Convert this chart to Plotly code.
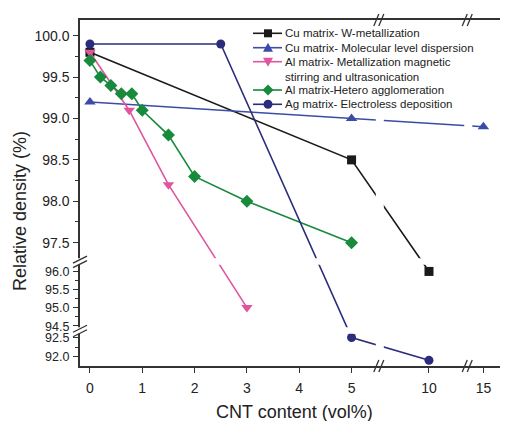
import plotly.graph_objects as go

# ---------------- data ----------------
cu_w_x = [0, 5, 10]
cu_w_y = [99.8, 98.5, 96.0]

cu_mol_x = [0, 5, 15]
cu_mol_y = [99.2, 99.0, 98.9]

al_met_x = [0, 0.75, 1.5, 3]
al_met_y = [99.8, 99.1, 98.2, 95.0]

al_het_x = [0, 0.2, 0.4, 0.6, 0.8, 1.0, 1.5, 2.0, 3.0, 5.0]
al_het_y = [99.7, 99.5, 99.4, 99.3, 99.3, 99.1, 98.8, 98.3, 98.0, 97.5]

ag_x = [0, 2.5, 5, 10]
ag_y = [99.9, 99.9, 92.5, 91.9]

names = [
    "Cu matrix- W-metallization",
    "Cu matrix- Molecular level dispersion",
    "Al matrix- Metallization magnetic<br>stirring and ultrasonication",
    "Al matrix-Hetero agglomeration",
    "Ag matrix- Electroless deposition",
]

x_ticks = [0, 1, 2, 3, 4, 5, 10, 15]
y_ticks = [92.0, 92.5, 94.5, 95.0, 95.5, 96.0, 97.5, 98.0, 98.5, 99.0, 99.5, 100.0]
y_minor = [92.25, 94.75, 95.25, 95.75, 97.75, 98.25, 98.75, 99.25, 99.75]

# broken-axis segments: (data_lo, data_hi, pixels per unit)
X_SEGS = [(-0.19, 5.54, 52.3), (9.06, 10.75, 52.3), (14.71, 15.47, 52.3)]
Y_SEGS = [(91.75, 92.68, 38.0), (94.36, 96.27, 36.2), (97.27, 100.19, 82.9)]


def make_map(segs):
    def f(v):
        off = 0.0
        for lo, hi, s in segs:
            if lo - 1e-9 <= v <= hi + 1e-9:
                return off + (v - lo) * s
            off += (hi - lo) * s
        return None
    total = sum((hi - lo) * s for lo, hi, s in segs)
    bounds = []
    off = 0.0
    for lo, hi, s in segs[:-1]:
        off += (hi - lo) * s
        bounds.append(off)
    return f, total, bounds


fx, XT, XB = make_map(X_SEGS)
fy, YT, YB = make_map(Y_SEGS)

# page body has an 8px margin -> figure drawn at (8, 8) in the window
OFF = 8
W, H = 500, 413
IL, IT, IR, IB = 80, 20, 508, 366          # plot area in window pixels
L, T = IL - OFF, IT - OFF
R = W - (IR - OFF)
B = H - (IB - OFF)
PW, PH = W - L - R, H - T - B


def PX(p):
    return (p - IL) / PW


def PY(p):
    return (IB - p) / PH


colors = ["#1a1a1a", "#3c4ba6", "#e0559e", "#178a3c", "#2b2d7c"]
symbols = ["square", "triangle-up", "triangle-down", "diamond", "circle"]
sizes = [9, 10, 10, 10, 9]
series = [(cu_w_x, cu_w_y), (cu_mol_x, cu_mol_y), (al_met_x, al_met_y),
          (al_het_x, al_het_y), (ag_x, ag_y)]

fig = go.Figure()
for (xs, ys), c, sym, sz, nm in zip(series, colors, symbols, sizes, names):
    fig.add_trace(go.Scatter(
        x=[fx(v) for v in xs], y=[fy(v) for v in ys],
        mode="lines+markers", name=nm, showlegend=False,
        line=dict(color=c, width=1.6),
        marker=dict(symbol=sym, size=sz, color=c),
    ))

shapes = []
# white gap bands at breaks
for b in XB:
    bp = IL + b / XT * PW
    shapes.append(dict(type="rect", xref="paper", yref="paper",
                       x0=PX(bp - 4), x1=PX(bp + 4), y0=PY(IB), y1=PY(IT),
                       fillcolor="white", line=dict(width=0), layer="above"))
for b in YB:
    bp = IB - b / YT * PH
    shapes.append(dict(type="rect", xref="paper", yref="paper",
                       x0=PX(IL - 2), x1=PX(IR), y0=PY(bp + 3), y1=PY(bp - 3.5),
                       fillcolor="white", line=dict(width=0), layer="above"))

ax_col = "#333333"


def slash(x0, y0, x1, y1):
    shapes.append(dict(type="line", xref="paper", yref="paper",
                       x0=PX(x0), y0=PY(y0), x1=PX(x1), y1=PY(y1),
                       line=dict(color=ax_col, width=1.3), layer="above"))


# break marks on x axis (bottom & top)
for b in XB:
    bp = IL + b / XT * PW
    for yy in (IB, IT):
        slash(bp - 6, yy + 6, bp - 1, yy - 6)
        slash(bp - 1, yy + 6, bp + 4, yy - 6)
# break marks on y axis (left & right)
for b in YB:
    bp = IB - b / YT * PH
    for xx in (IL, IR + 1):
        slash(xx - 7, bp + 6, xx + 7, bp - 1)
        slash(xx - 7, bp + 1.5, xx + 7, bp - 5.5)

# manual legend
leg_rows = [33.3, 47.7, 61.7, 90.0, 104.3]
lx0, lx1, lmx, ltx = 253, 282, 268, 283
annotations = []
for i, (c, sym, nm, ry) in enumerate(zip(colors, symbols, names, leg_rows)):
    shapes.append(dict(type="line", xref="paper", yref="paper",
                       x0=PX(lx0), x1=PX(lx1), y0=PY(ry), y1=PY(ry),
                       line=dict(color=c, width=1.6), layer="above"))
    r = 4.5
    if sym == "square":
        shapes.append(dict(type="rect", xref="paper", yref="paper",
                           x0=PX(lmx - 4), x1=PX(lmx + 4), y0=PY(ry + 4), y1=PY(ry - 4),
                           fillcolor=c, line=dict(width=0), layer="above"))
    elif sym == "circle":
        shapes.append(dict(type="circle", xref="paper", yref="paper",
                           x0=PX(lmx - r), x1=PX(lmx + r), y0=PY(ry + r), y1=PY(ry - r),
                           fillcolor=c, line=dict(width=0), layer="above"))
    else:
        if sym == "triangle-up":
            pts = [(lmx - 5, ry + 4), (lmx + 5, ry + 4), (lmx, ry - 5)]
        elif sym == "triangle-down":
            pts = [(lmx - 5, ry - 4), (lmx + 5, ry - 4), (lmx, ry + 5)]
        else:
            pts = [(lmx - 5.5, ry), (lmx, ry - 5.5), (lmx + 5.5, ry), (lmx, ry + 5.5)]
        path = "M " + " L ".join(f"{PX(a):.5f},{PY(b2):.5f}" for a, b2 in pts) + " Z"
        shapes.append(dict(type="path", xref="paper", yref="paper", path=path,
                           fillcolor=c, line=dict(width=0), layer="above"))
    if i == 2:
        annotations.append(dict(xref="paper", yref="paper", x=PX(ltx), y=PY(ry - 8),
                                xanchor="left", yanchor="top", showarrow=False, align="left",
                                text=nm, font=dict(size=11.5, color="#222")))
    else:
        annotations.append(dict(xref="paper", yref="paper", x=PX(ltx), y=PY(ry),
                                xanchor="left", yanchor="middle", showarrow=False,
                                text=nm, font=dict(size=11.5, color="#222")))

# axis titles
annotations.append(dict(xref="paper", yref="paper", x=PX(294), y=PY(412),
                        xanchor="center", yanchor="middle", showarrow=False,
                        text="CNT content (vol%)", font=dict(size=18, color="#222")))
annotations.append(dict(xref="paper", yref="paper", x=PX(20), y=PY(211),
                        xanchor="center", yanchor="middle", showarrow=False, textangle=-90,
                        text="Relative density (%)", font=dict(size=18, color="#222")))


def ylabel(v):
    s = f"{v:.1f}"
    if v < Y_SEGS[-1][0]:
        return f'<span style="font-size:12.5px">{s}</span>'
    return s


fig.update_layout(
    width=W, height=H,
    margin=dict(l=L, r=R, t=T, b=B, pad=0),
    paper_bgcolor="white", plot_bgcolor="white",
    font=dict(family="Liberation Sans, Arial, sans-serif", color="#222"),
    showlegend=False,
    shapes=shapes, annotations=annotations,
    xaxis=dict(range=[0, XT], showgrid=False, zeroline=False, automargin=False,
               showline=True, linecolor=ax_col, linewidth=1.5, mirror=True,
               ticks="outside", ticklen=5, tickcolor=ax_col, tickwidth=1.3,
               ticklabelstandoff=3,
               tickmode="array", tickvals=[fx(v) for v in x_ticks],
               ticktext=[str(v) for v in x_ticks], tickfont=dict(size=14)),
    yaxis=dict(range=[0, YT], showgrid=False, zeroline=False, automargin=False,
               showline=True, linecolor=ax_col, linewidth=1.5,
               ticks="outside", ticklen=5, tickcolor=ax_col, tickwidth=1.3,
               ticklabelstandoff=1,
               tickmode="array", tickvals=[fy(v) for v in y_ticks],
               ticktext=[ylabel(v) for v in y_ticks], tickfont=dict(size=14),
               minor=dict(tickmode="array", tickvals=[fy(v) for v in y_minor],
                          ticks="outside", ticklen=3, tickcolor=ax_col, tickwidth=1.3)),
)

fig.write_html("out.html")
